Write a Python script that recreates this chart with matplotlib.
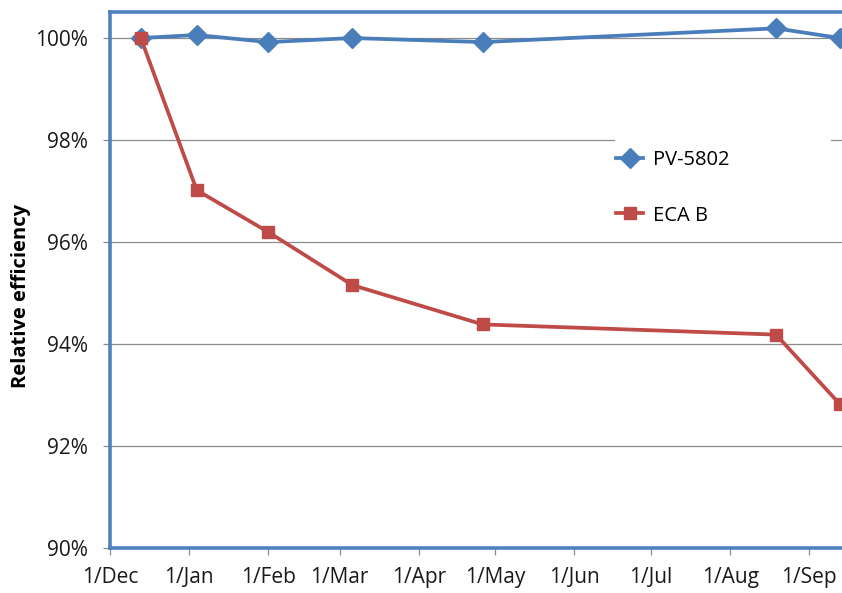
import matplotlib
matplotlib.use("Agg")
import matplotlib.pyplot as plt
from matplotlib.patches import Rectangle
import numpy as np

# data
dates = np.array(["2010-12-13", "2011-01-04", "2011-02-01", "2011-03-06",
                  "2011-04-26", "2011-08-19", "2011-09-13"], dtype="datetime64[D]")
pv5802 = [99.99, 100.05, 99.91, 99.99, 99.91, 100.18, 99.99]
eca_b = [100.0, 97.01, 96.19, 95.15, 94.38, 94.18, 92.82]

tick_dates = np.array(["2010-12-01", "2011-01-01", "2011-02-01", "2011-03-01",
                       "2011-04-01", "2011-05-01", "2011-06-01", "2011-07-01",
                       "2011-08-01", "2011-09-01"], dtype="datetime64[D]")
tick_labels = ["1/Dec", "1/Jan", "1/Feb", "1/Mar", "1/Apr", "1/May",
               "1/Jun", "1/Jul", "1/Aug", "1/Sep"]
y_ticks = [90, 92, 94, 96, 98, 100]

plt.rcParams["font.family"] = ["Open Sans", "DejaVu Sans"]

blue = "#4A7EBB"
red = "#BE4B48"
frame = "#4F81BD"

fig = plt.figure(figsize=(8.42, 5.93), dpi=100)
ax = fig.add_axes([110 / 842, 45 / 593, 740 / 842, 536 / 593])

ax.plot(dates, pv5802, "-", color=blue, lw=2.7, marker="D", ms=10,
        label="PV-5802", zorder=3)
ax.plot(dates, eca_b, "-", color=red, lw=2.7, marker="s", ms=8.5,
        label="ECA B", zorder=3)

ax.set_ylim(90, 100.5)
ax.set_yticks(y_ticks)
ax.set_yticklabels(["%d%%" % v for v in y_ticks])
ax.set_xlim(np.datetime64("2010-12-01"), np.datetime64("2011-09-17"))
ax.set_xticks(tick_dates)
ax.set_xticklabels(tick_labels)

ax.yaxis.grid(True, color="#8C8C8C", lw=0.9)
ax.set_axisbelow(True)

for s in ["top", "left", "bottom"]:
    ax.spines[s].set_color(frame)
    ax.spines[s].set_linewidth(2.6)
ax.spines["right"].set_visible(False)

ax.tick_params(axis="both", color="#8C8C8C", length=5, width=0.9,
               labelsize=15, labelcolor="#1a1a1a")
ax.tick_params(axis="y", pad=11)
ax.tick_params(axis="x", pad=9)

ax.set_ylabel("Relative efficiency", fontsize=14.5, fontweight="bold")
ax.yaxis.set_label_coords(-0.107, 0.47)

# white legend area, wider than the entries (as in the original)
ax.add_patch(Rectangle((0.682, 0.578), 0.292, 0.193, transform=ax.transAxes,
                       facecolor="white", edgecolor="none", zorder=1))

leg = ax.legend(loc="upper left", bbox_to_anchor=(0.684, 0.742), frameon=False,
                fontsize=14.5, handlelength=1.35, labelspacing=1.75,
                borderpad=0, handletextpad=0.5, borderaxespad=0)

fig.savefig("out.png", dpi=100)
